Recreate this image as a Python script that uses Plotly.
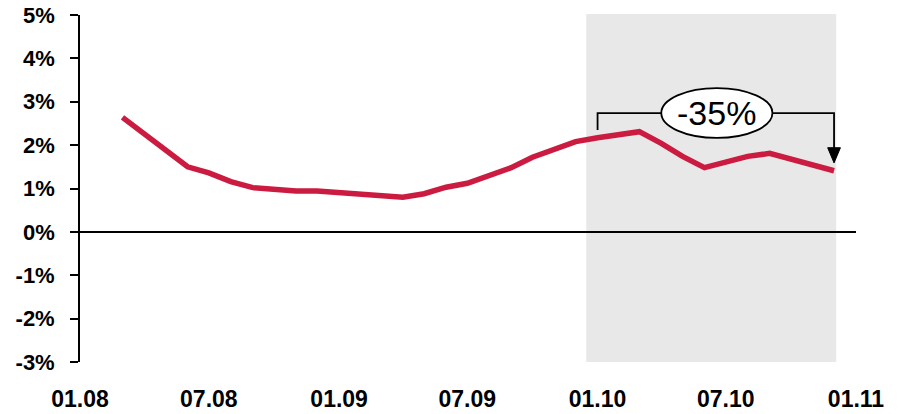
import pandas as pd
import plotly.graph_objects as go

# Monthly series, March 2008 - December 2010 (percent)
months = pd.date_range("2008-03-01", "2010-12-01", freq="MS")
values = [2.64, 2.26, 1.88, 1.50, 1.36, 1.16, 1.02, 0.97, 0.94, 0.94,
          0.90, 0.86, 0.85, 0.80, 0.88, 1.03, 1.12, 1.30, 1.48, 1.72,
          1.90, 2.08, 2.17, 2.23, 2.31, 2.04, 1.74, 1.48, 1.60, 1.74,
          1.81, 1.68, 1.53, 1.41]

tick_dates = ["2008-01-01", "2008-07-01", "2009-01-01", "2009-07-01",
              "2010-01-01", "2010-07-01", "2011-01-01"]
tick_labels = ["01.08", "07.08", "01.09", "07.09", "01.10", "07.10", "01.11"]
y_ticks = [-3, -2, -1, 0, 1, 2, 3, 4, 5]
y_labels = [f"{v}%" for v in y_ticks]

change_label = "-35%"

RED = "#CC1B40"
FONT = "Liberation Sans, Arial, sans-serif"

fig = go.Figure()
fig.add_trace(go.Scatter(
    x=months, y=values, mode="lines",
    line=dict(color=RED, width=5.5),
    hoverinfo="skip", showlegend=False,
))

start_x, end_x = months[22], months[-1]
bracket_y = 2.74

shapes = [
    # highlighted period
    dict(type="rect", xref="x", yref="paper", layer="below",
         x0="2009-12-16", x1="2010-12-04", y0=0, y1=1.003,
         fillcolor="#E8E8E8", line=dict(width=0)),
    # bracket
    dict(type="path", xref="x", yref="y", layer="above",
         path=f"M {start_x:%Y-%m-%d},2.35 L {start_x:%Y-%m-%d},{bracket_y} "
              f"L {end_x:%Y-%m-%d},{bracket_y} L {end_x:%Y-%m-%d},1.90",
         line=dict(color="black", width=1.8)),
    # arrow head
    dict(type="path", xref="x", yref="y", layer="above",
         path="M 2010-11-22,1.94 L 2010-12-10,1.94 L 2010-12-01,1.59 Z",
         fillcolor="black", line=dict(color="black", width=1)),
    # label ellipse
    dict(type="circle", xref="x", yref="y", layer="above",
         x0="2010-04-01", x1="2010-09-05", y0=2.165, y1=3.315,
         fillcolor="white", line=dict(color="black", width=1.8)),
]

fig.add_annotation(
    x="2010-06-18", y=2.74, xref="x", yref="y", showarrow=False,
    text=change_label,
    font=dict(family="Liberation Sans Narrow, Liberation Sans, Arial, sans-serif",
              size=34, color="black"),
)

fig.update_layout(
    width=903, height=414,
    margin=dict(l=80, r=47, t=15, b=52),
    paper_bgcolor="white", plot_bgcolor="rgba(0,0,0,0)",
    shapes=shapes,
    xaxis=dict(
        type="date", range=["2008-01-01", "2011-01-01"],
        tickvals=tick_dates, ticktext=tick_labels,
        showgrid=False, zeroline=False, showline=False, ticks="",
        ticklabelstandoff=21, automargin=False,
        tickfont=dict(family=FONT, size=23, color="black", weight="bold"),
    ),
    yaxis=dict(
        range=[-3, 5], tickvals=y_ticks, ticktext=y_labels,
        showgrid=False, zeroline=True, zerolinecolor="black", zerolinewidth=1.6,
        showline=True, linecolor="black", linewidth=1.8,
        ticks="outside", ticklen=8, tickwidth=1.8, tickcolor="black",
        ticklabelstandoff=11, automargin=False,
        tickfont=dict(family=FONT, size=22, color="black", weight="bold"),
    ),
)

fig.write_html("out.html")
